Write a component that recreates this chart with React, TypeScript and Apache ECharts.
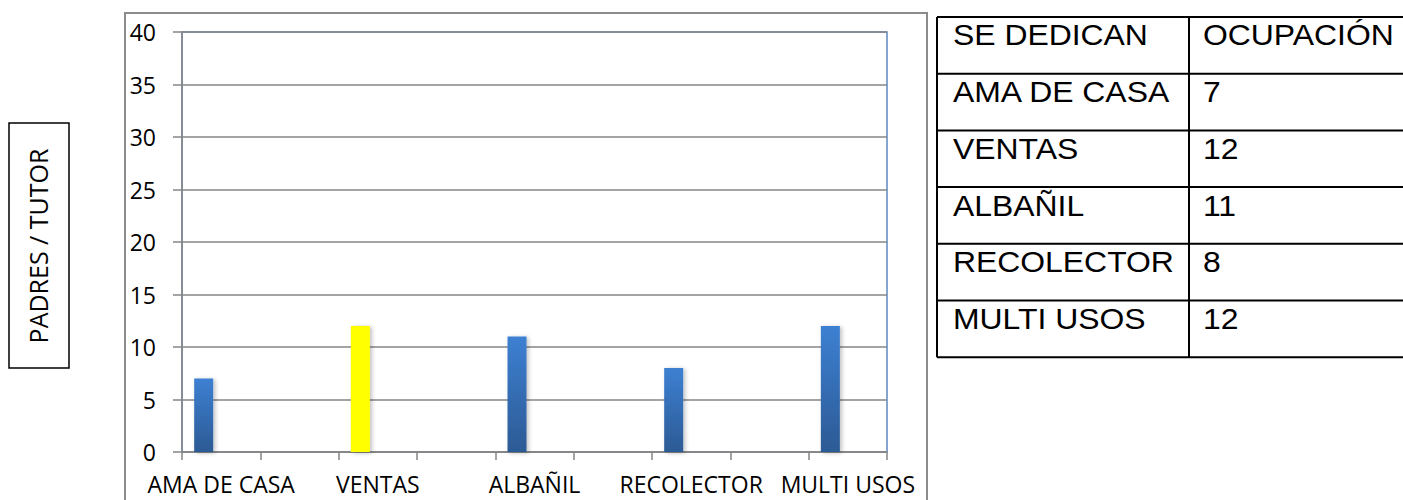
import React, { useEffect, useRef } from "react";
import * as echarts from "echarts";

const categories = ["AMA DE CASA", "", "VENTAS", "", "ALBAÑIL", "", "RECOLECTOR", "", "MULTI USOS"];
const values = [7, null, 12, null, 11, null, 8, null, 12];
const highlightCategory = "VENTAS";
const yTicks = { min: 0, max: 40, interval: 5 };
const axisTitle = "PADRES / TUTOR";
const tableHeader = ["SE DEDICAN", "OCUPACIÓN"];
const tableNames = ["AMA DE CASA", "VENTAS", "ALBAÑIL", "RECOLECTOR", "MULTI USOS"];
const tableCounts = ["7", "12", "11", "8", "12"];

export default function App() {
  const ref = useRef<HTMLDivElement>(null);
  useEffect(() => {
    if (!ref.current) return;
    const chart = echarts.init(ref.current, null, { renderer: "svg" });
    const blue = new echarts.graphic.LinearGradient(0, 0, 0, 1, [
      { offset: 0, color: "#3d80d2" },
      { offset: 1, color: "#2c5a94" },
    ]);
    const data = values.map((v, i) =>
      v === null
        ? null
        : {
            value: v,
            itemStyle: { color: categories[i] === highlightCategory ? "#ffff00" : blue },
          }
    );
    const empty = categories.map(() => null);

    const tableLeft = 937;
    const colX = 1189;
    const tableRight = 1420;
    const rowTop = 17;
    const rowH = 56.7;
    const rows = [tableHeader, ...tableNames.map((n, i) => [n, tableCounts[i]])];
    const tableEls: any[] = [];
    const lineStyle = { stroke: "#000", lineWidth: 2 };
    for (let r = 0; r <= rows.length; r++) {
      const y = rowTop + r * rowH;
      tableEls.push({ type: "line", shape: { x1: tableLeft, y1: y, x2: tableRight, y2: y }, style: lineStyle });
    }
    const bottom = rowTop + rows.length * rowH;
    tableEls.push({ type: "line", shape: { x1: tableLeft, y1: rowTop, x2: tableLeft, y2: bottom }, style: lineStyle });
    tableEls.push({ type: "line", shape: { x1: colX, y1: rowTop, x2: colX, y2: bottom }, style: lineStyle });
    rows.forEach((row, r) => {
      const y = rowTop + r * rowH + 18;
      [tableLeft + 16, colX + 14].forEach((x, c) => {
        tableEls.push({
          type: "text",
          x,
          y,
          scaleX: 1.1,
          style: {
            text: row[c],
            fontFamily: "Liberation Sans, Arial, sans-serif",
            fontSize: 29,
            fill: "#000",
            align: "left",
            verticalAlign: "middle",
          },
        });
      });
    });

    chart.setOption({
      animation: false,
      grid: {
        left: 182,
        top: 32,
        width: 705,
        height: 420,
        show: true,
        borderColor: "#5b88c0",
        borderWidth: 1.5,
        backgroundColor: "transparent",
      },
      xAxis: {
        type: "category",
        data: categories,
        boundaryGap: true,
        axisLine: { lineStyle: { color: "#868686", width: 1.5 } },
        axisTick: { show: true, length: 8, interval: 0, lineStyle: { color: "#868686", width: 1.5 } },
        axisLabel: {
          interval: 0,
          color: "#000",
          fontFamily: "Open Sans",
          fontSize: 23,
          margin: 20,
        },
      },
      yAxis: {
        type: "value",
        min: yTicks.min,
        max: yTicks.max,
        interval: yTicks.interval,
        axisLine: { show: true, lineStyle: { color: "#868686", width: 1.5 } },
        axisTick: { show: true, length: 9, lineStyle: { color: "#868686", width: 1.5 } },
        splitLine: { lineStyle: { color: "#868686", width: 1.5 } },
        axisLabel: { color: "#000", fontFamily: "Open Sans", fontSize: 23, margin: 26 },
      },
      series: [
        {
          type: "bar",
          data,
          barWidth: 19,
          barGap: "-8%",
          itemStyle: { shadowBlur: 4, shadowOffsetX: 2, shadowOffsetY: 1, shadowColor: "rgba(0,0,0,0.25)" },
        },
        { type: "bar", data: empty, barWidth: 19, barGap: "-8%" },
        { type: "bar", data: empty, barWidth: 19, barGap: "-8%" },
      ],
      graphic: [
        {
          type: "rect",
          shape: { x: 125, y: 13, width: 802, height: 500 },
          style: { fill: "none", stroke: "#8c8c8c", lineWidth: 2 },
          z: -1,
        },
        {
          type: "rect",
          shape: { x: 9, y: 123, width: 60, height: 245 },
          style: { fill: "#fff", stroke: "#000", lineWidth: 1.5 },
        },
        {
          type: "text",
          x: 38,
          y: 246,
          rotation: Math.PI / 2,
          style: {
            text: axisTitle,
            fontFamily: "Open Sans",
            fontSize: 25,
            fill: "#000",
            align: "center",
            verticalAlign: "middle",
          },
        },
        ...tableEls,
      ],
    });
    return () => chart.dispose();
  }, []);
  return (
    <div
      ref={ref}
      style={{ position: "fixed", left: 0, top: 0, width: 1403, height: 500, background: "#fff" }}
    />
  );
}
